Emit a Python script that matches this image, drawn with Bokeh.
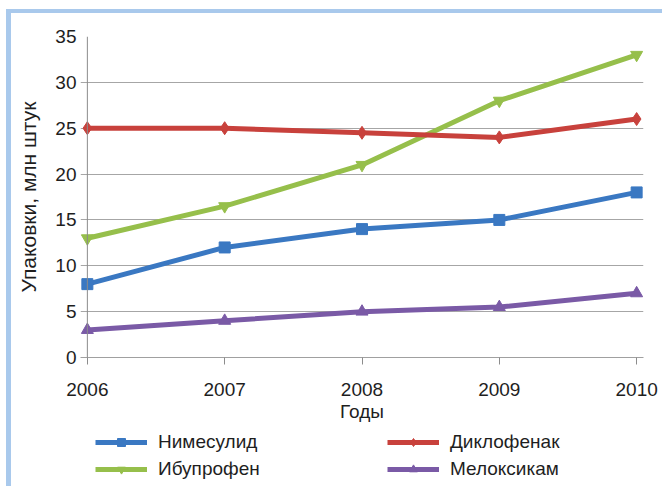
from bokeh.plotting import figure
from bokeh.layouts import column
from bokeh.models import FixedTicker, Range1d, Legend, LegendItem, Span
from bokeh.embed import file_html
from bokeh.resources import INLINE

years = [2006, 2007, 2008, 2009, 2010]
nimesulid = [8, 12, 14, 15, 18]
diclofenac = [25, 25, 24.5, 24, 26]
ibuprofen = [13, 16.5, 21, 28, 33]
meloxicam = [3, 4, 5, 5.5, 7]
y_ticks = [0, 5, 10, 15, 20, 25, 30, 35]

FONT = "Liberation Sans"
TXT = "#1e1e1e"
PAD = 0.05

p = figure(width=662, height=426, output_backend="svg", toolbar_location=None,
           x_range=Range1d(years[0] - PAD, years[-1] + PAD), y_range=Range1d(0, 35),
           min_border_left=80, min_border_right=19, min_border_top=36, min_border_bottom=69)
p.border_fill_alpha = 0
p.background_fill_color = "white"
p.outline_line_color = None

p.xaxis.ticker = FixedTicker(ticks=years)
p.yaxis.ticker = FixedTicker(ticks=y_ticks)
p.xgrid.visible = False
p.ygrid.grid_line_color = "#a6a6a6"
p.ygrid.grid_line_width = 1

for ax in (p.xaxis, p.yaxis):
    ax.major_tick_line_color = "#8c8c8c"
    ax.minor_tick_line_color = None
    ax.major_tick_in = 0
    ax.major_label_text_font = FONT
    ax.major_label_text_font_size = "19px"
    ax.major_label_text_color = TXT
    ax.axis_label_text_font = FONT
    ax.axis_label_text_font_style = "normal"
    ax.axis_label_text_color = TXT

p.yaxis.axis_line_color = None
p.yaxis.major_tick_line_color = None
p.yaxis.major_tick_out = 0
p.yaxis.major_label_standoff = 4
p.yaxis.axis_label = "Упаковки, млн штук"
p.yaxis.axis_label_text_font_size = "21px"
p.yaxis.axis_label_standoff = 12
p.add_layout(Span(location=years[0], dimension="height", line_color="#8c8c8c", line_width=1))

p.xaxis.axis_line_color = "#a0a0a0"
p.xaxis.major_tick_out = 7
p.xaxis.major_label_standoff = 18
p.xaxis.axis_label = "Годы"
p.xaxis.axis_label_text_font_size = "19px"
p.xaxis.axis_label_standoff = 2

series = [
    ("Нимесулид", nimesulid, "#3a78c2", "square", 11),
    ("Ибупрофен", ibuprofen, "#96bf4b", "inverted_triangle", 12),
    ("Диклофенак", diclofenac, "#c8413c", "diamond", 13),
    ("Мелоксикам", meloxicam, "#7a5aa6", "triangle", 12),
]

# legend panel below the chart (its ranges keep the series out of view; only the legend shows)
lg = figure(width=662, height=60, output_backend="svg", toolbar_location=None,
            x_range=Range1d(0, 1), y_range=Range1d(0, 1),
            x_axis_location=None, y_axis_location=None, min_border=0)
lg.border_fill_alpha = 0
lg.background_fill_alpha = 0
lg.outline_line_color = None
lg.grid.visible = False

items = []
for name, vals, color, marker, size in series:
    p.line(years, vals, line_color=color, line_width=5)
    p.scatter(years, vals, marker=marker, size=size, fill_color=color, line_color=color)
    l2 = lg.line(years, vals, line_color=color, line_width=5)
    s2 = lg.scatter(years, vals, marker=marker, size=size, fill_color=color, line_color=color)
    items.append(LegendItem(label=name, renderers=[l2, s2]))

legend = Legend(items=items,
                ncols=2, location=(15, 6), padding=0, margin=0, spacing=5,
                glyph_width=52, glyph_height=20, label_height=20,
                label_standoff=11, label_width=224,
                label_text_font=FONT, label_text_font_size="19px", label_text_color=TXT,
                border_line_color=None, background_fill_alpha=0)
lg.add_layout(legend, "center")

layout = column(p, lg, spacing=0)
layout.styles = {"box-shadow": "inset 6px 9px 0 0 white, inset 11px 13px 0 0 #a9c9ec",
                 "background": "white"}

open("out.html", "w").write(file_html(layout, INLINE))
